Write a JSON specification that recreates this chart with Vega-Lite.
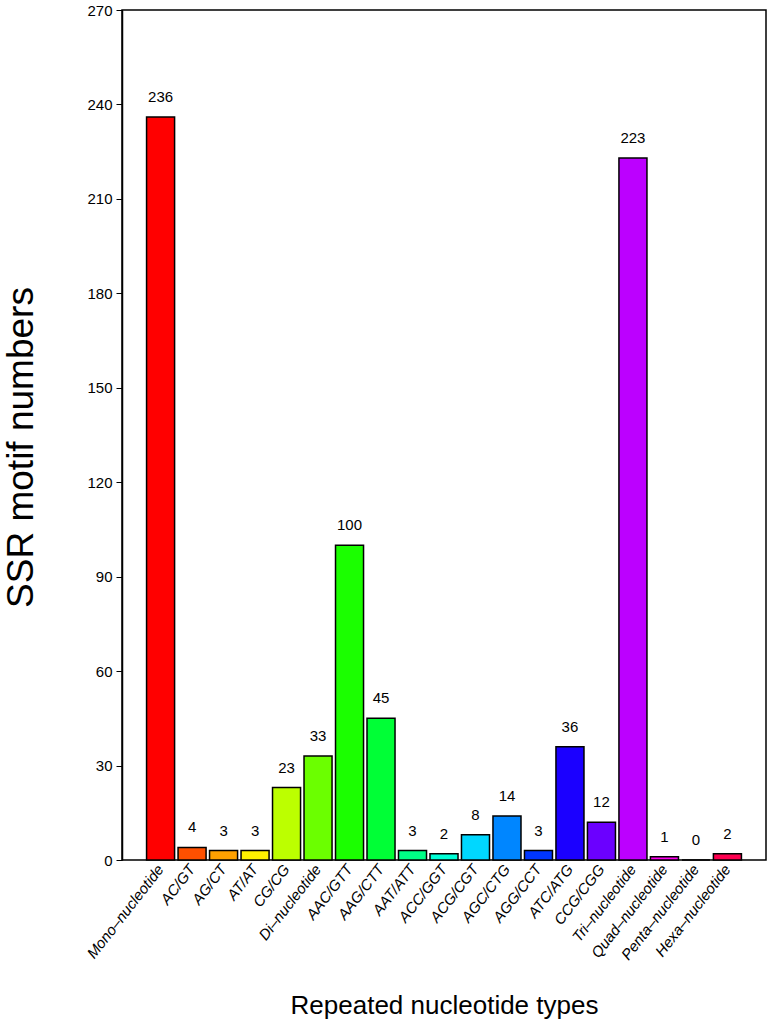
{
  "$schema": "https://vega.github.io/schema/vega-lite/v6.json",
  "autosize": {"type": "none"},
  "padding": {"left": 122, "top": 10, "right": 4, "bottom": 164},
  "width": 644,
  "height": 850,
  "config": {"view": {"stroke": "black", "strokeWidth": 1.5}, "font": "Liberation Sans"},
  "data": {"values": [
    {"type": "Mono–nucleotide", "n": 236, "color": "#FF0000"},
    {"type": "AC/GT", "n": 4, "color": "#FF5000"},
    {"type": "AG/CT", "n": 3, "color": "#FFA100"},
    {"type": "AT/AT", "n": 3, "color": "#FFF100"},
    {"type": "CG/CG", "n": 23, "color": "#BCFF00"},
    {"type": "Di–nucleotide", "n": 33, "color": "#6BFF00"},
    {"type": "AAC/GTT", "n": 100, "color": "#1BFF00"},
    {"type": "AAG/CTT", "n": 45, "color": "#00FF36"},
    {"type": "AAT/ATT", "n": 3, "color": "#00FF86"},
    {"type": "ACC/GGT", "n": 2, "color": "#00FFD7"},
    {"type": "ACG/CGT", "n": 8, "color": "#00D7FF"},
    {"type": "AGC/CTG", "n": 14, "color": "#0086FF"},
    {"type": "AGG/CCT", "n": 3, "color": "#0036FF"},
    {"type": "ATC/ATG", "n": 36, "color": "#1B00FF"},
    {"type": "CCG/CGG", "n": 12, "color": "#6B00FF"},
    {"type": "Tri–nucleotide", "n": 223, "color": "#BC00FF"},
    {"type": "Quad–nucleotide", "n": 1, "color": "#FF00F1"},
    {"type": "Penta–nucleotide", "n": 0, "color": "#FF00A1"},
    {"type": "Hexa–nucleotide", "n": 2, "color": "#FF0050"}
  ]},
  "encoding": {
    "x": {
      "field": "type", "type": "nominal", "sort": null,
      "scale": {"paddingInner": 0.11, "paddingOuter": 0.78},
      "axis": {
        "title": "Repeated nucleotide types", "titleFontSize": 26, "titleFontWeight": "normal",
        "titlePadding": 30, "titleColor": "black",
        "labelAngle": -52, "labelFontSize": 15, "labelFontStyle": "italic", "labelColor": "black",
        "labelPadding": 6, "ticks": false, "domain": false
      }
    },
    "y": {
      "field": "n", "type": "quantitative",
      "scale": {"domain": [0, 270], "nice": false},
      "axis": {
        "title": "SSR motif numbers", "titleFontSize": 37, "titleFontWeight": "normal",
        "titlePadding": 46, "titleColor": "black", "titleY": 437,
        "values": [0, 30, 60, 90, 120, 150, 180, 210, 240, 270],
        "labelFontSize": 15, "labelColor": "black", "tickColor": "black", "tickSize": 6,
        "labelPadding": 4,
        "domainColor": "black", "domainWidth": 1.5, "grid": false
      }
    }
  },
  "layer": [
    {
      "mark": {"type": "bar", "stroke": "black", "strokeWidth": 1.5},
      "encoding": {"fill": {"field": "color", "type": "nominal", "scale": null}}
    },
    {
      "mark": {"type": "text", "baseline": "bottom", "dy": -12, "fontSize": 15, "color": "black"},
      "encoding": {"text": {"field": "n", "type": "quantitative"}}
    }
  ]
}
